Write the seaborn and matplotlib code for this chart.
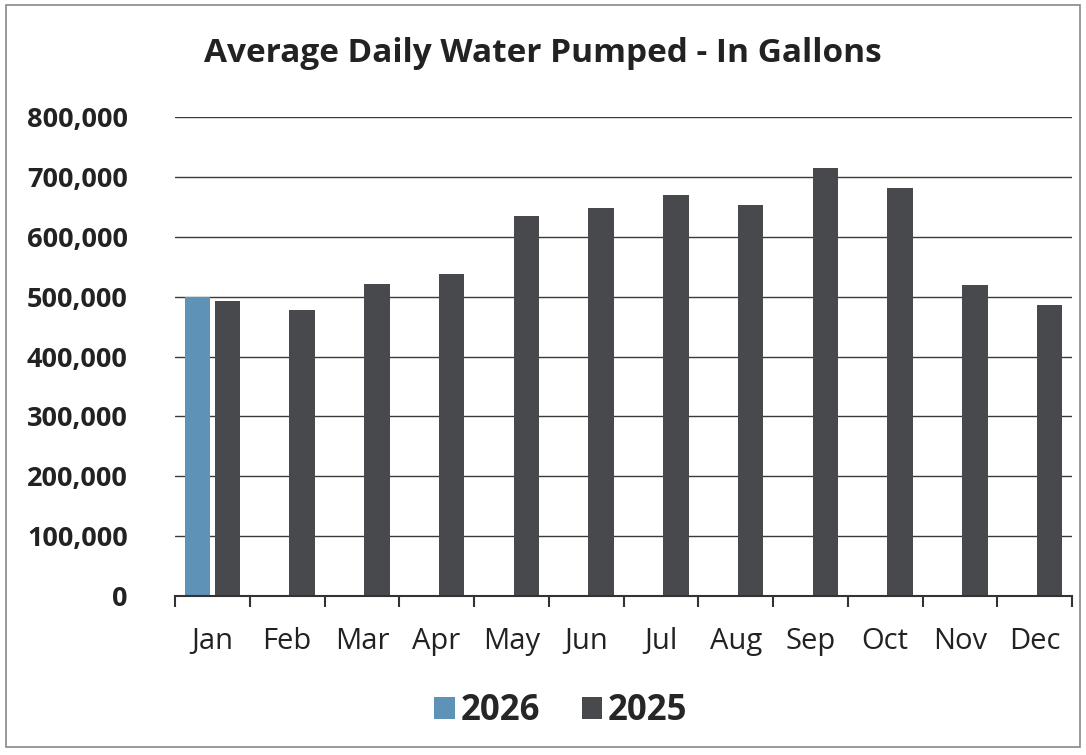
import matplotlib
matplotlib.use("Agg")
import matplotlib.pyplot as plt
from matplotlib.patches import Rectangle
from matplotlib.ticker import FuncFormatter, MultipleLocator
import seaborn as sns
import pandas as pd
import numpy as np

# Data
months = ["Jan", "Feb", "Mar", "Apr", "May", "Jun", "Jul", "Aug", "Sep", "Oct", "Nov", "Dec"]
pumped_2026 = [500000] + [np.nan] * 11
pumped_2025 = [493000, 477000, 521000, 537000, 634000, 648000,
               670000, 653000, 714000, 681000, 519000, 486000]

df = pd.DataFrame({
    "Month": months * 2,
    "Year": ["2026"] * 12 + ["2025"] * 12,
    "Gallons": pumped_2026 + pumped_2025,
})

sns.set_style("white")
plt.rcParams["font.family"] = ["Open Sans", "DejaVu Sans"]

fig = plt.figure(figsize=(10.86, 7.55), dpi=100)
ax = fig.add_axes([175 / 1086, 1 - 596 / 755, (1072 - 175) / 1086, (596 - 117) / 755])

sns.barplot(data=df, x="Month", y="Gallons", hue="Year", order=months,
            hue_order=["2026", "2025"], palette={"2026": "#4f95c6", "2025": "#46494e"},
            width=0.8, gap=0.15, ax=ax, legend=True, edgecolor="none")

ax.set_ylim(0, 800000)
ax.set_xlim(-0.5, 11.5)
ax.yaxis.set_major_locator(MultipleLocator(100000))
ax.yaxis.set_major_formatter(FuncFormatter(lambda v, p: f"{int(v):,}"))
ax.grid(axis="y", color="#3a3a3a", linewidth=1.0)
ax.set_axisbelow(True)
ax.set_xlabel("")
ax.set_ylabel("")

for s in ["top", "right", "left"]:
    ax.spines[s].set_visible(False)
ax.spines["bottom"].set_color("#333333")
ax.spines["bottom"].set_linewidth(1.5)

ax.tick_params(axis="y", length=0, colors="#222222", labelsize=19.5, pad=34)
for lbl in ax.get_yticklabels():
    lbl.set_fontweight("bold")
ax.tick_params(axis="x", which="major", bottom=False, length=0, labelsize=21, pad=22, colors="#222222")
ax.set_xticks(np.arange(-0.5, 12, 1), minor=True)
ax.tick_params(axis="x", which="minor", bottom=True, length=8, width=1.5, direction="out", color="#333333")

fig.text(0.5, 1 - 54 / 755, "Average Daily Water Pumped - In Gallons", ha="center", va="center",
         fontsize=24, fontweight="bold", color="#222222")

leg = ax.legend(loc="center", bbox_to_anchor=(0.43, -0.24), ncol=2, frameon=False,
                prop={"size": 25, "weight": "bold"}, handlelength=0.6, handleheight=0.6,
                handletextpad=0.15, columnspacing=1.2)

fig.patches.append(Rectangle((6 / 1086, 8 / 755), 1074 / 1086, 742 / 755, transform=fig.transFigure,
                             fill=False, edgecolor="#888888", linewidth=1.2))

fig.savefig("out.png", dpi=100)
